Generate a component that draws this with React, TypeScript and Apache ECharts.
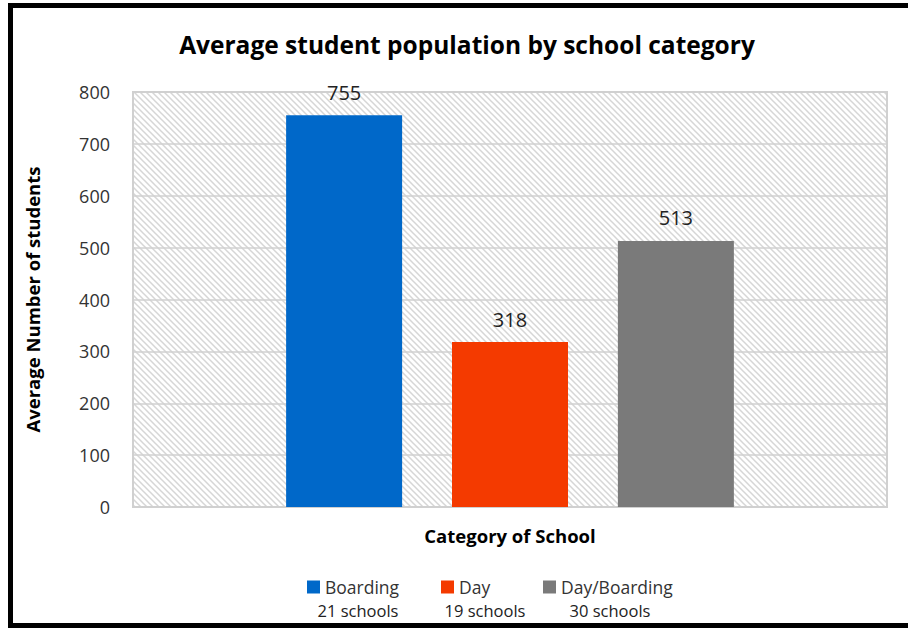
import React, { useEffect, useRef } from "react";
import * as echarts from "echarts";

const seriesNames = ["Boarding", "Day", "Day/Boarding"];
const averageStudents = [755, 318, 513];
const schoolCounts = [21, 19, 30];
const seriesColors = ["#0068C9", "#F43A00", "#7A7A7A"];
const yTicks = { min: 0, max: 800, interval: 100 };

const FONT = "'Open Sans', Lato, sans-serif";

function makeHatch(): string {
  const c = document.createElement("canvas");
  c.width = 6;
  c.height = 6;
  const ctx = c.getContext("2d")!;
  ctx.fillStyle = "#ffffff";
  ctx.fillRect(0, 0, 6, 6);
  ctx.strokeStyle = "#d6d6d6";
  ctx.lineWidth = 1.5;
  ctx.beginPath();
  ctx.moveTo(-1, -1);
  ctx.lineTo(7, 7);
  ctx.moveTo(-4, 2);
  ctx.lineTo(4, 10);
  ctx.moveTo(2, -4);
  ctx.lineTo(10, 4);
  ctx.stroke();
  return c.toDataURL();
}

export default function App() {
  const ref = useRef<HTMLDivElement>(null);
  useEffect(() => {
    if (!ref.current) return;
    const chart = echarts.init(ref.current, null, { renderer: "svg" });
    const hatch = makeHatch();
    const legendLefts = [307, 441, 543];
    const countCenters = [358, 485, 610];
    chart.setOption({
      animation: false,
      backgroundColor: "#ffffff",
      title: {
        text: "Average student population by school category",
        left: 462,
        top: 27,
        textAlign: "center",
        textStyle: { fontFamily: FONT, fontWeight: "bold", fontSize: 24.5, color: "#000" },
      },
      grid: {
        left: 133,
        top: 92,
        right: 21,
        bottom: 121,
        show: true,
        backgroundColor: { image: hatch, repeat: "repeat" },
        borderColor: "#d0d0d0",
        borderWidth: 2,
      },
      legend: seriesNames.map((n, i) => ({
        data: [n],
        left: legendLefts[i],
        top: 578,
        padding: 0,
        icon: "rect",
        itemWidth: 13,
        itemHeight: 13,
        itemGap: 4,
        textStyle: { fontFamily: FONT, fontSize: 17.5, lineHeight: 17, color: "#333" },
        selectedMode: false,
      })),
      xAxis: {
        type: "category",
        data: [""],
        name: "Category of School",
        nameLocation: "middle",
        nameGap: 19,
        nameTextStyle: { fontFamily: FONT, fontWeight: "bold", fontSize: 18.5, color: "#000" },
        axisLine: { lineStyle: { color: "#d0d0d0", width: 2 } },
        axisTick: { show: false },
        axisLabel: { show: false },
      },
      yAxis: {
        type: "value",
        min: yTicks.min,
        max: yTicks.max,
        interval: yTicks.interval,
        name: "Average Number of students",
        nameLocation: "middle",
        nameGap: 91,
        nameTextStyle: { fontFamily: FONT, fontWeight: "bold", fontSize: 18.5, color: "#000" },
        axisLine: { show: false },
        axisTick: { show: false },
        axisLabel: { fontFamily: FONT, fontSize: 18, color: "#333", margin: 23 },
        splitLine: { lineStyle: { color: "#d0d0d0", width: 1.5 } },
      },
      series: seriesNames.map((n, i) => ({
        type: "bar",
        name: n,
        data: [averageStudents[i]],
        barWidth: 116,
        barGap: "43%",
        itemStyle: { color: seriesColors[i] },
        label: {
          show: true,
          position: "top",
          distance: 13,
          fontFamily: FONT,
          fontSize: 20,
          color: "#222",
        },
      })),
      graphic: [
        {
          type: "rect",
          shape: { x: 10.5, y: 5.5, width: 920, height: 620 },
          style: { fill: "none", stroke: "#000", lineWidth: 5 },
          silent: true,
        },
        ...schoolCounts.map((c, i) => ({
          type: "text",
          x: countCenters[i],
          y: 610,
          style: {
            text: `${c} schools`,
            align: "center",
            verticalAlign: "middle",
            fontFamily: FONT,
            fontSize: 16.5,
            lineHeight: 16,
            fill: "#222",
          },
        })),
      ],
    });
    return () => chart.dispose();
  }, []);
  return (
    <div style={{ position: "absolute", left: 0, top: 0, width: 908, height: 628 }}>
      <div ref={ref} style={{ width: 908, height: 628 }} />
    </div>
  );
}
